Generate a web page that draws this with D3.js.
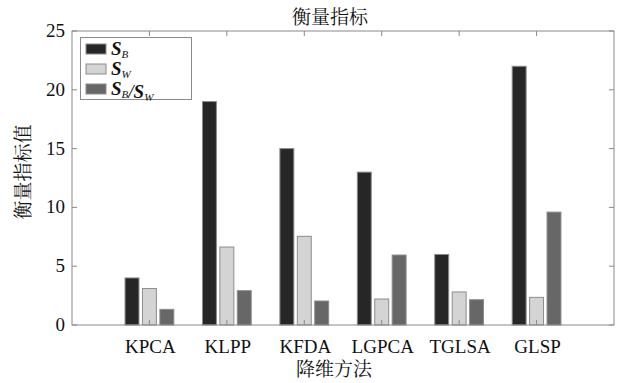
<!DOCTYPE html>
<html>
<head>
<meta charset="utf-8">
<script src="https://cdn.jsdelivr.net/npm/d3@7"></script>
<style>
  body { margin: 0; background: #fff; }
  svg { display: block; }
  .serif { font-family: "Liberation Serif", "Times New Roman", serif; }
  .cjk { font-family: "Noto Serif CJK SC", "Noto Sans CJK SC", serif; }
</style>
</head>
<body>
<svg id="chart" width="619" height="383"></svg>
<script>
// Dimensionality-reduction methods and their separability measures
const methods = ["KPCA", "KLPP", "KFDA", "LGPCA", "TGLSA", "GLSP"];
const sB = [4, 19, 15, 13, 6, 22];
const sW = [3.1, 6.63, 7.54, 2.21, 2.81, 2.35];
const ratio = [1.33, 2.92, 2.04, 5.95, 2.15, 9.6];
const yTicks = [0, 5, 10, 15, 20, 25];
const seriesNames = [["S", "B"], ["S", "W"], ["S", "B", "S", "W"]];
const seriesColors = ["#262626", "#d4d4d4", "#676767"];

const svg = d3.select("#chart");
const plotL = 72, plotR = 614, plotT = 31, plotB = 325;
const axisColor = "#8a8a8a";

const x = d3.scaleLinear().domain([0, 7]).range([plotL, plotR]);
const y = d3.scaleLinear().domain([0, 25]).range([plotB, plotT]);

// bars: three per method, offset around the integer position
const series = [sB, sW, ratio];
const offset = 0.225, barW = 0.18;
series.forEach((vals, si) => {
  svg.append("g").selectAll("rect").data(vals).join("rect")
    .attr("x", (d, i) => x(i + 1 + (si - 1) * offset - barW / 2))
    .attr("width", x(barW) - x(0))
    .attr("y", d => y(d))
    .attr("height", d => y(0) - y(d))
    .attr("fill", seriesColors[si])
    .attr("stroke", "#8c8c8c")
    .attr("stroke-width", 1);
});

// axes box with inward ticks on all sides
const box = svg.append("g").attr("stroke", axisColor).attr("fill", "none");
box.append("rect").attr("x", plotL).attr("y", plotT)
  .attr("width", plotR - plotL).attr("height", plotB - plotT);
const tl = 5;
yTicks.forEach(t => {
  box.append("line").attr("x1", plotL).attr("x2", plotL + tl).attr("y1", y(t)).attr("y2", y(t));
  box.append("line").attr("x1", plotR).attr("x2", plotR - tl).attr("y1", y(t)).attr("y2", y(t));
});
methods.forEach((m, i) => {
  box.append("line").attr("x1", x(i + 1)).attr("x2", x(i + 1)).attr("y1", plotT).attr("y2", plotT + tl);
  box.append("line").attr("x1", x(i + 1)).attr("x2", x(i + 1)).attr("y1", plotB).attr("y2", plotB - tl);
});

// y tick labels
svg.append("g").selectAll("text").data(yTicks).join("text")
  .attr("class", "serif")
  .attr("x", 65).attr("y", d => y(d) + 6)
  .attr("text-anchor", "end")
  .attr("font-size", 19).attr("fill", "#111")
  .text(d => d);

// x tick labels
svg.append("g").selectAll("text").data(methods).join("text")
  .attr("class", "serif")
  .attr("x", (d, i) => x(i + 1) + 1).attr("y", 353)
  .attr("text-anchor", "middle")
  .attr("font-size", 19).attr("fill", "#111")
  .text(d => d);

// title and axis labels
svg.append("text").attr("class", "cjk").attr("x", 330).attr("y", 24).attr("text-anchor", "middle")
  .attr("font-size", 19).attr("fill", "#111").text("衡量指标");
svg.append("text").attr("class", "cjk").attr("x", 334).attr("y", 376).attr("text-anchor", "middle")
  .attr("font-size", 19).attr("fill", "#111").text("降维方法");
svg.append("text").attr("class", "cjk").attr("transform", "translate(30,172) rotate(-90)")
  .attr("text-anchor", "middle")
  .attr("font-size", 19).attr("fill", "#111").text("衡量指标值");

// legend
const lg = svg.append("g");
lg.append("rect").attr("x", 80.5).attr("y", 37.5).attr("width", 111).attr("height", 62)
  .attr("fill", "#fff").attr("stroke", axisColor);
const rowsY = [49, 69, 89];
seriesNames.forEach((name, i) => {
  lg.append("rect").attr("x", 86).attr("y", rowsY[i] - 5).attr("width", 20).attr("height", 10)
    .attr("fill", seriesColors[i]).attr("stroke", "#8c8c8c");
  const t = lg.append("text").attr("class", "serif").attr("x", 111).attr("y", rowsY[i] + 6)
    .attr("fill", "#111");
  const addS = (sub) => {
    t.append("tspan").attr("font-size", 19).attr("font-weight", "bold").attr("font-style", "italic").text("S");
    t.append("tspan").attr("font-size", 11).attr("font-style", "italic").attr("dy", 3).text(sub);
    t.append("tspan").attr("dy", -3).attr("font-size", 19).text("");
  };
  addS(name[1]);
  if (name.length > 2) {
    t.append("tspan").attr("font-size", 19).attr("font-style", "italic").text("/");
    addS(name[3]);
  }
});
</script>
</body>
</html>
